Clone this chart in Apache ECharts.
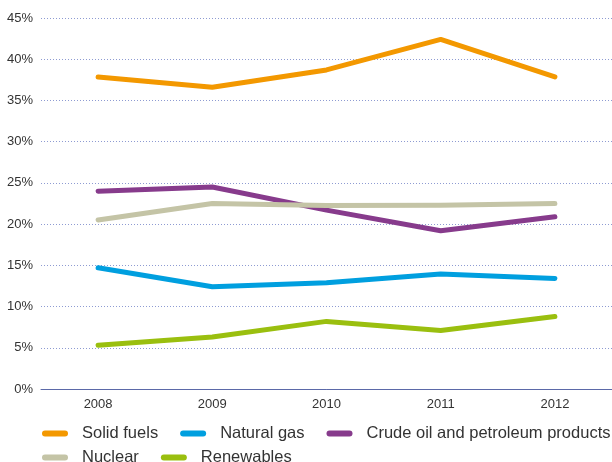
<!DOCTYPE html>
<html>
<head>
<meta charset="utf-8">
<script src="https://cdn.jsdelivr.net/npm/echarts@6/dist/echarts.min.js"></script>
<style>
html, body { margin: 0; padding: 0; background: #fff; }
#chart { width: 612px; height: 462px; }
</style>
</head>
<body>
<div id="chart"></div>
<script>
// data
var years = ['2008', '2009', '2010', '2011', '2012'];
var solidFuels = [37.85, 36.6, 38.7, 42.4, 37.85];
var naturalGas = [14.7, 12.4, 12.9, 13.95, 13.4];
var crudeOil = [24.0, 24.5, 21.7, 19.2, 20.9];
var nuclear = [20.5, 22.5, 22.25, 22.3, 22.5];
var renewables = [5.3, 6.3, 8.2, 7.1, 8.8];
var yTicks = [0, 5, 10, 15, 20, 25, 30, 35, 40, 45];

var names = ['Solid fuels', 'Natural gas', 'Crude oil and petroleum products', 'Nuclear', 'Renewables'];
var colors = ['#f39800', '#009fdf', '#873b8c', '#c4c4a6', '#9abf0f'];
var values = [solidFuels, naturalGas, crudeOil, nuclear, renewables];

var font = 'Liberation Sans, Arial, sans-serif';
var icon = 'path://M3,0 L23,0 A3,3 0 0 1 23,6 L3,6 A3,3 0 0 1 3,0 Z';

// one legend per row so the rows sit as close as in the picture
function legendRow(items, widths, top) {
    return {
        left: 37,
        top: top,
        width: 575,
        orient: 'horizontal',
        itemWidth: 26,
        itemHeight: 6,
        itemGap: 22,
        icon: icon,
        selectedMode: false,
        textStyle: {
            fontFamily: font,
            fontSize: 16.5,
            color: '#333',
            padding: [0, 0, 0, 9]
        },
        data: items.map(function (n, i) {
            return {name: n, textStyle: {width: widths[i]}};
        })
    };
}

var myChart = echarts.init(document.getElementById('chart'));

var option = {
    animation: false,
    backgroundColor: '#fff',
    color: colors,
    grid: {
        left: 41,
        right: 0,
        top: 18,
        bottom: 73
    },
    legend: [
        legendRow([names[0], names[1], names[2]], [78, 88, 220], 420),
        legendRow([names[3], names[4]], [78, 88], 444)
    ],
    xAxis: {
        type: 'category',
        data: years,
        boundaryGap: true,
        axisLine: {lineStyle: {color: '#5b69a8', width: 1}},
        axisTick: {show: false},
        axisLabel: {
            margin: 9,
            fontFamily: font,
            fontSize: 13,
            color: '#333'
        }
    },
    yAxis: {
        type: 'value',
        min: yTicks[0],
        max: yTicks[yTicks.length - 1],
        interval: 5,
        axisLine: {show: false},
        axisTick: {show: false},
        axisLabel: {
            margin: 8,
            fontFamily: font,
            fontSize: 13,
            color: '#333',
            formatter: '{value}%'
        },
        splitLine: {
            lineStyle: {color: '#8e9bd2', type: [1, 2], width: 1}
        }
    },
    series: names.map(function (n, i) {
        return {
            name: n,
            type: 'line',
            data: values[i],
            symbol: 'none',
            lineStyle: {width: 5, color: colors[i], cap: 'round', join: 'round'},
            itemStyle: {color: colors[i]}
        };
    })
};

myChart.setOption(option);
</script>
</body>
</html>
